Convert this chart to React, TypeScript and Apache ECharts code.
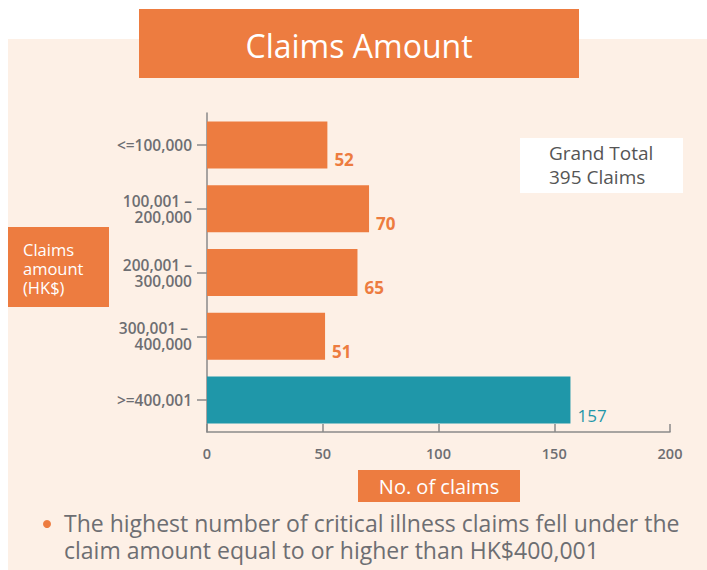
import React, { useEffect, useRef } from "react";
import * as echarts from "echarts";

const categories = [
  "<=100,000",
  "100,001 –\n200,000",
  "200,001 –\n300,000",
  "300,001 – \n400,000",
  ">=400,001",
];
const claimCounts = [52, 70, 65, 51, 157];
const barColors = ["#ED7C40", "#ED7C40", "#ED7C40", "#ED7C40", "#1F97A9"];
const labelWeights = ["bold", "bold", "bold", "bold", "normal"];
const xTicks = [0, 50, 100, 150, 200];

const FONT = "'Open Sans', sans-serif";
const ORANGE = "#ED7C40";
const CREAM = "#FDF0E6";
const GRAY = "#6D6E72";

export default function App() {
  const ref = useRef<HTMLDivElement>(null);
  useEffect(() => {
    if (!ref.current) return;
    const chart = echarts.init(ref.current, null, { renderer: "svg" });
    chart.setOption({
      animation: false,
      backgroundColor: "#FFFFFF",
      textStyle: { fontFamily: FONT },
      grid: { left: 207, right: 37, top: 113, bottom: 138, containLabel: false },
      xAxis: {
        type: "value",
        min: xTicks[0],
        max: xTicks[xTicks.length - 1],
        interval: 50,
        axisLine: { show: true, lineStyle: { color: "#8A8A8A", width: 1.5 } },
        axisTick: { show: true, inside: true, length: 8, lineStyle: { color: "#8A8A8A", width: 1.5 } },
        splitLine: { show: false },
        axisLabel: { color: GRAY, fontSize: 14.5, fontWeight: 600, margin: 14, fontFamily: FONT },
      },
      yAxis: {
        type: "category",
        data: categories,
        inverse: true,
        axisLine: { show: true, lineStyle: { color: "#8A8A8A", width: 1.5 } },
        axisTick: { show: true, alignWithLabel: true, length: 10, lineStyle: { color: "#8A8A8A", width: 1.5 } },
        axisLabel: {
          color: GRAY,
          fontSize: 15.5,
          fontWeight: 600,
          margin: 15,
          lineHeight: 16,
          align: "right",
          fontFamily: FONT,
        },
      },
      series: [
        {
          type: "bar",
          barWidth: 47,
          data: claimCounts.map((v, i) => ({
            value: v,
            itemStyle: { color: barColors[i] },
            label: {
              show: true,
              position: "right",
              offset: [2, 15],
              color: barColors[i],
              fontSize: 17,
              fontWeight: labelWeights[i],
              fontFamily: FONT,
            },
          })),
        },
      ],
      graphic: [
        { type: "rect", z: -10, shape: { x: 8, y: 39, width: 699, height: 531 }, style: { fill: CREAM } },
        { type: "rect", shape: { x: 139, y: 9, width: 440, height: 69 }, style: { fill: ORANGE } },
        {
          type: "text",
          x: 359,
          y: 45,
          style: { text: "Claims Amount", fill: "#FFFFFF", fontSize: 32, fontFamily: FONT, align: "center", verticalAlign: "middle" },
        },
        { type: "rect", shape: { x: 8, y: 227, width: 101, height: 80 }, style: { fill: ORANGE } },
        {
          type: "text",
          x: 23,
          y: 268,
          style: {
            text: "Claims\namount\n(HK$)",
            fill: "#FFFFFF",
            fontSize: 16.5,
            lineHeight: 19,
            fontFamily: FONT,
            align: "left",
            verticalAlign: "middle",
          },
        },
        { type: "rect", shape: { x: 358, y: 470, width: 162, height: 32 }, style: { fill: ORANGE } },
        {
          type: "text",
          x: 439,
          y: 486,
          style: { text: "No. of claims", fill: "#FFFFFF", fontSize: 20, fontFamily: FONT, align: "center", verticalAlign: "middle" },
        },
        { type: "rect", shape: { x: 520, y: 138, width: 163, height: 55 }, style: { fill: "#FFFFFF" } },
        {
          type: "text",
          x: 549,
          y: 165,
          style: {
            text: "Grand Total\n395 Claims",
            fill: "#555555",
            fontSize: 19,
            lineHeight: 24,
            fontFamily: FONT,
            align: "left",
            verticalAlign: "middle",
          },
        },
        { type: "circle", shape: { cx: 47, cy: 524, r: 4 }, style: { fill: ORANGE } },
        {
          type: "text",
          x: 64,
          y: 536,
          style: {
            text: "The highest number of critical illness claims fell under the\nclaim amount equal to or higher than HK$400,001",
            fill: GRAY,
            fontSize: 23,
            lineHeight: 27,
            fontFamily: FONT,
            align: "left",
            verticalAlign: "middle",
          },
        },
      ],
    });
    return () => chart.dispose();
  }, []);
  return (
    <div
      ref={ref}
      style={{ position: "fixed", left: 0, top: 0, width: 707, height: 570 }}
    />
  );
}
